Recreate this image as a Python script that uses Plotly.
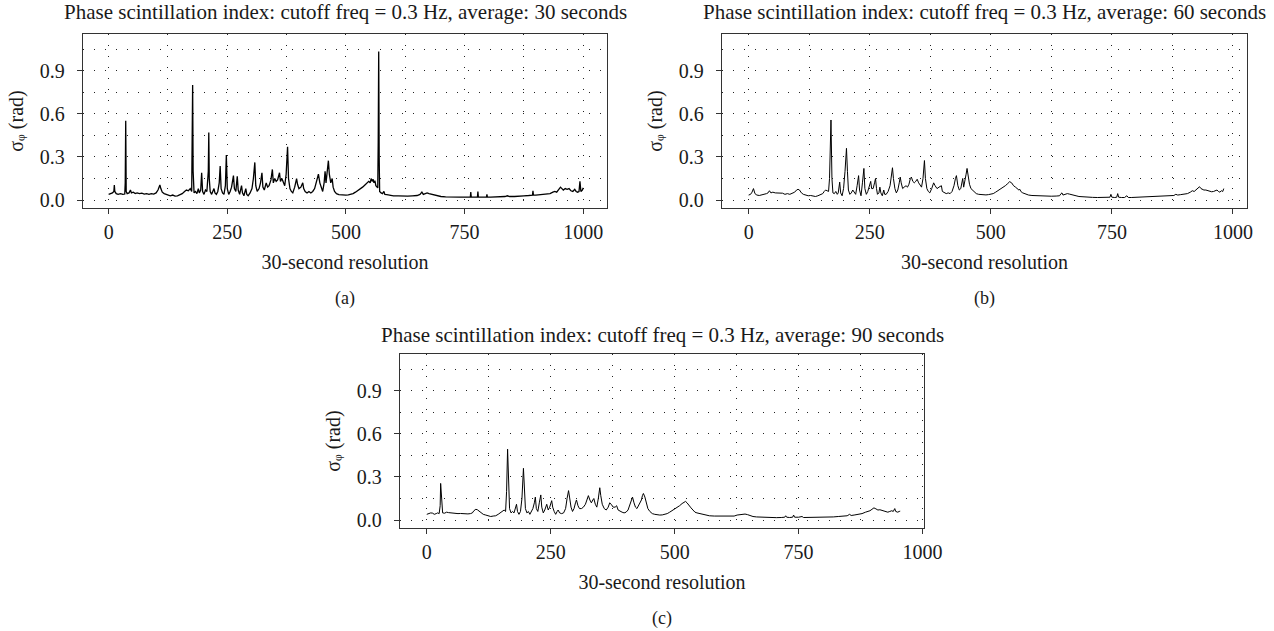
import plotly.graph_objects as go

W, H = 1274, 631

# ---------------- data ----------------
a_x = [0,4,8,11,12,13,16,20,25,30,34,35,36,37,39,43,46,48,52,56,60,65,70,75,80,85,90,95,100,104,107,108,110,113,117,121,126,130,135,140,145,150,155,160,164,168,172,175,176,177,178,180,183,186,189,191,194,196,198,201,204,207,210,211,212,214,217,220,222,224,227,230,233,235,237,240,243,246,248,250,253,256,259,263,265,268,271,273,276,280,282,285,289,291,294,298,302,305,308,310,313,317,320,323,325,328,332,335,338,342,345,347,350,353,356,360,362,365,368,371,374,377,379,382,385,388,392,396,398,401,405,409,411,414,418,422,426,430,434,438,442,445,448,451,454,456,458,461,463,465,468,471,473,476,480,485,490,495,500,505,510,515,520,525,530,535,540,544,548,551,553,555,557,559,561,563,565,567,568,569,570,571,574,577,580,582,586,590,595,600,610,620,630,640,650,656,660,663,667,671,675,680,686,692,700,710,720,730,740,750,760,762,763,764,770,777,778,779,785,790,796,797,798,805,815,825,835,840,845,855,865,875,885,893,894,895,900,910,920,930,936,940,944,948,952,955,958,962,966,970,974,978,982,985,988,991,993,995,998,1000]
a_y = [0.040,0.045,0.050,0.060,0.105,0.060,0.045,0.040,0.045,0.040,0.042,0.120,0.552,0.060,0.045,0.050,0.070,0.050,0.055,0.045,0.050,0.045,0.048,0.042,0.045,0.040,0.045,0.042,0.050,0.070,0.095,0.105,0.080,0.055,0.045,0.040,0.035,0.030,0.035,0.028,0.030,0.035,0.045,0.060,0.070,0.065,0.080,0.060,0.300,0.800,0.200,0.050,0.060,0.045,0.080,0.050,0.070,0.190,0.060,0.040,0.070,0.060,0.200,0.470,0.150,0.060,0.040,0.060,0.080,0.050,0.040,0.060,0.120,0.237,0.080,0.050,0.040,0.100,0.313,0.080,0.040,0.060,0.090,0.170,0.080,0.060,0.165,0.070,0.040,0.100,0.050,0.030,0.080,0.040,0.030,0.050,0.080,0.150,0.262,0.100,0.060,0.080,0.120,0.190,0.090,0.070,0.120,0.090,0.100,0.140,0.213,0.120,0.150,0.130,0.140,0.190,0.130,0.150,0.120,0.100,0.180,0.371,0.150,0.080,0.060,0.050,0.090,0.150,0.110,0.080,0.090,0.120,0.080,0.060,0.050,0.060,0.050,0.060,0.080,0.140,0.180,0.120,0.080,0.060,0.120,0.200,0.120,0.200,0.274,0.180,0.120,0.150,0.090,0.060,0.045,0.038,0.035,0.033,0.034,0.036,0.040,0.045,0.055,0.065,0.080,0.090,0.105,0.115,0.130,0.120,0.150,0.130,0.145,0.120,0.135,0.100,0.090,0.085,0.400,1.033,0.300,0.060,0.050,0.045,0.060,0.040,0.038,0.035,0.033,0.030,0.030,0.028,0.028,0.030,0.032,0.040,0.055,0.040,0.045,0.050,0.045,0.040,0.035,0.030,0.025,0.022,0.020,0.020,0.020,0.020,0.020,0.020,0.055,0.020,0.020,0.020,0.060,0.020,0.020,0.022,0.020,0.040,0.022,0.020,0.020,0.022,0.025,0.030,0.025,0.025,0.030,0.030,0.032,0.035,0.065,0.035,0.035,0.040,0.045,0.045,0.055,0.060,0.055,0.070,0.090,0.080,0.070,0.080,0.075,0.080,0.065,0.060,0.075,0.060,0.055,0.060,0.130,0.060,0.070,0.085]

b_x = [0,4,7,10,13,17,22,27,32,37,40,43,46,50,55,60,65,70,75,80,85,90,95,99,102,105,109,113,118,123,128,133,138,143,148,153,156,159,162,165,167,170,172,174,177,180,183,185,188,190,193,196,199,202,204,206,209,212,215,218,221,224,227,229,232,235,238,240,243,246,249,252,254,257,260,262,264,266,269,271,273,276,279,281,284,288,292,295,297,299,302,305,308,311,313,315,318,321,325,328,331,334,336,339,342,345,348,351,354,357,360,363,365,368,371,374,378,382,385,389,393,396,398,400,404,408,412,416,420,424,427,429,432,435,438,440,442,444,446,449,451,453,456,459,462,466,470,475,480,485,490,495,500,505,510,515,520,525,530,535,539,543,547,551,555,558,560,562,566,570,574,578,585,595,605,615,625,635,642,645,647,649,653,658,662,666,670,676,682,690,700,710,720,730,740,746,748,750,756,760,762,764,770,776,781,784,790,800,810,820,830,840,850,860,870,878,882,886,892,900,906,912,916,920,924,928,931,934,937,940,944,948,952,956,960,964,967,970,973,976,979,981]
b_y = [0.035,0.040,0.055,0.080,0.045,0.035,0.032,0.035,0.040,0.045,0.050,0.065,0.050,0.055,0.050,0.048,0.045,0.048,0.040,0.045,0.040,0.045,0.055,0.070,0.075,0.070,0.050,0.040,0.035,0.030,0.032,0.028,0.025,0.030,0.035,0.045,0.060,0.070,0.065,0.060,0.150,0.557,0.150,0.050,0.045,0.060,0.040,0.050,0.125,0.050,0.030,0.080,0.200,0.360,0.200,0.070,0.040,0.050,0.070,0.050,0.040,0.100,0.170,0.070,0.030,0.120,0.220,0.080,0.040,0.060,0.100,0.130,0.080,0.080,0.120,0.150,0.080,0.040,0.050,0.090,0.050,0.030,0.070,0.040,0.040,0.060,0.100,0.180,0.225,0.150,0.080,0.050,0.070,0.120,0.160,0.120,0.080,0.090,0.100,0.090,0.110,0.150,0.160,0.130,0.120,0.130,0.145,0.120,0.100,0.090,0.150,0.275,0.150,0.080,0.060,0.050,0.080,0.120,0.100,0.080,0.090,0.100,0.100,0.060,0.050,0.045,0.050,0.045,0.060,0.100,0.150,0.170,0.100,0.070,0.080,0.110,0.150,0.090,0.120,0.180,0.220,0.170,0.110,0.080,0.070,0.055,0.045,0.040,0.038,0.036,0.036,0.038,0.040,0.045,0.055,0.065,0.075,0.085,0.100,0.115,0.128,0.120,0.100,0.090,0.080,0.070,0.075,0.060,0.050,0.045,0.040,0.035,0.032,0.030,0.028,0.028,0.027,0.028,0.030,0.045,0.050,0.035,0.040,0.045,0.042,0.040,0.035,0.030,0.025,0.022,0.020,0.019,0.018,0.018,0.018,0.020,0.040,0.020,0.018,0.020,0.045,0.020,0.018,0.018,0.030,0.018,0.018,0.020,0.022,0.020,0.022,0.025,0.025,0.028,0.030,0.032,0.040,0.035,0.038,0.040,0.045,0.055,0.065,0.060,0.070,0.085,0.093,0.080,0.075,0.070,0.070,0.065,0.060,0.058,0.060,0.065,0.070,0.060,0.055,0.065,0.060,0.080]

c_x = [0,4,8,12,15,19,22,25,27,28,30,32,36,40,44,48,53,58,63,68,73,78,83,88,92,95,99,102,105,109,114,119,124,129,134,139,144,149,153,156,159,161,163,165,167,170,173,176,179,181,183,186,189,192,195,197,199,202,205,208,211,214,217,219,221,224,227,230,232,235,238,242,245,248,252,254,257,260,263,265,268,272,276,280,283,286,288,291,294,297,300,302,305,308,312,316,320,323,326,329,332,335,337,340,343,346,349,351,354,358,362,366,369,372,376,380,383,386,390,394,398,402,406,410,413,415,418,421,424,427,430,433,435,437,440,443,446,450,455,460,465,470,475,480,485,490,495,500,505,510,515,519,522,525,529,533,537,541,545,550,556,562,570,580,590,600,610,620,626,630,636,642,647,652,658,665,675,685,695,705,715,722,724,726,732,738,740,742,750,757,760,768,778,790,800,810,820,830,840,848,853,856,862,870,878,885,890,894,898,902,906,910,914,918,922,926,930,934,938,941,944,946,950,953,955]
c_y = [0.040,0.045,0.050,0.048,0.040,0.045,0.050,0.045,0.100,0.255,0.100,0.050,0.048,0.055,0.052,0.050,0.048,0.045,0.045,0.046,0.044,0.045,0.043,0.045,0.050,0.065,0.075,0.072,0.065,0.050,0.040,0.035,0.028,0.025,0.028,0.030,0.040,0.055,0.065,0.070,0.060,0.200,0.493,0.250,0.080,0.050,0.060,0.050,0.080,0.110,0.060,0.040,0.060,0.150,0.360,0.200,0.080,0.050,0.060,0.040,0.060,0.080,0.120,0.160,0.080,0.060,0.120,0.175,0.090,0.050,0.070,0.110,0.070,0.090,0.135,0.090,0.060,0.040,0.060,0.070,0.050,0.045,0.050,0.080,0.150,0.205,0.160,0.090,0.060,0.080,0.120,0.140,0.100,0.080,0.080,0.090,0.110,0.140,0.170,0.140,0.120,0.140,0.150,0.110,0.090,0.150,0.225,0.170,0.110,0.080,0.070,0.090,0.120,0.110,0.090,0.090,0.100,0.070,0.060,0.055,0.050,0.055,0.070,0.110,0.150,0.160,0.120,0.090,0.080,0.100,0.130,0.140,0.170,0.185,0.160,0.110,0.080,0.060,0.045,0.040,0.036,0.035,0.036,0.040,0.045,0.055,0.065,0.075,0.085,0.100,0.115,0.125,0.130,0.120,0.100,0.085,0.070,0.055,0.050,0.045,0.040,0.035,0.030,0.028,0.027,0.026,0.026,0.028,0.035,0.038,0.040,0.042,0.038,0.030,0.025,0.022,0.020,0.018,0.018,0.017,0.018,0.020,0.030,0.020,0.018,0.020,0.035,0.020,0.020,0.025,0.018,0.018,0.020,0.020,0.022,0.020,0.022,0.025,0.028,0.030,0.040,0.032,0.035,0.038,0.045,0.055,0.060,0.065,0.075,0.085,0.078,0.070,0.072,0.068,0.065,0.060,0.055,0.060,0.065,0.060,0.080,0.060,0.055,0.060,0.062]

titles = [
    "Phase scintillation index: cutoff freq = 0.3 Hz, average: 30 seconds",
    "Phase scintillation index: cutoff freq = 0.3 Hz, average: 60 seconds",
    "Phase scintillation index: cutoff freq = 0.3 Hz, average: 90 seconds",
]
panel_labels = ["(a)", "(b)", "(c)"]
x_title = "30-second resolution"
y_title = "σ\u1d69 (rad)"
x_ticks = [0, 250, 500, 750, 1000]
y_ticks = [0.0, 0.3, 0.6, 0.9]

# ---------------- layout (pixel boxes of the three panels) ----------------
boxes = [  # left, right, top, bottom in pixels
    (83, 607, 34, 208),
    (722, 1247, 34, 208),
    (400, 924, 354, 528),
]
title_gap = [22, 22, 19]
xranges = [[-54, 1050], [-55, 1029], [-54, 1003]]
yrange = [-0.055, 1.155]
widths = [1.3, 1.0, 1.0]

FONT = "Liberation Serif"
INK = "#1a1a1a"
AX = "#333333"
GRID = "#222222"

def px(x):
    return x / W

def py(y):
    return 1 - y / H

fig = go.Figure()
series = [(a_x, a_y), (b_x, b_y), (c_x, c_y)]
annotations = []
for i, ((xs, ys), (l, r, t, b)) in enumerate(zip(series, boxes)):
    n = "" if i == 0 else str(i + 1)
    fig.add_trace(go.Scatter(x=xs, y=ys, mode="lines",
                             line=dict(color="#000000", width=widths[i]),
                             xaxis="x" + n, yaxis="y" + n, showlegend=False,
                             hoverinfo="skip"))
    common = dict(showline=True, linecolor=AX, linewidth=1.3, mirror=True,
                  ticks="outside", ticklen=5, tickwidth=1.2, tickcolor=AX,
                  showgrid=True, gridcolor=GRID, gridwidth=1,
                  griddash="1px,10px", zeroline=False, automargin=False,
                  tickfont=dict(family=FONT, size=20, color=INK))
    fig.layout["xaxis" + n] = dict(
        domain=[px(l), px(r)], range=xranges[i], anchor="y" + n,
        tickvals=x_ticks, ticktext=[str(v) for v in x_ticks],
        minor=dict(dtick=125, tick0=0, showgrid=True, gridcolor=GRID,
                   gridwidth=1, griddash="1px,10px", ticks=""),
        ticklabelstandoff=1,
        title=dict(text=x_title, standoff=12,
                   font=dict(family=FONT, size=20, color=INK)),
        **common)
    fig.layout["yaxis" + n] = dict(
        domain=[py(b), py(t)], range=yrange, anchor="x" + n,
        tickvals=y_ticks, ticktext=["%.1f" % v for v in y_ticks],
        minor=dict(dtick=0.15, tick0=0, showgrid=True, gridcolor=GRID,
                   gridwidth=1, griddash="1px,10px", ticks=""),
        ticklabelstandoff=8,
        title=dict(text=y_title, standoff=10,
                   font=dict(family=FONT, size=20, color=INK)),
        **common)
    cx = (l + r) / 2
    annotations += [
        dict(text=titles[i], x=px(cx), y=py(t - title_gap[i]), xref="paper", yref="paper",
             showarrow=False, xanchor="center", yanchor="middle",
             font=dict(family=FONT, size=21, color=INK)),
        dict(text=panel_labels[i], x=px(cx), y=py(b + 90), xref="paper", yref="paper",
             showarrow=False, xanchor="center", yanchor="middle",
             font=dict(family=FONT, size=18, color=INK)),
    ]

fig.update_layout(width=W, height=H, margin=dict(l=0, r=0, t=0, b=0),
                  paper_bgcolor="white", plot_bgcolor="white",
                  annotations=annotations)
fig.write_html("out.html")
